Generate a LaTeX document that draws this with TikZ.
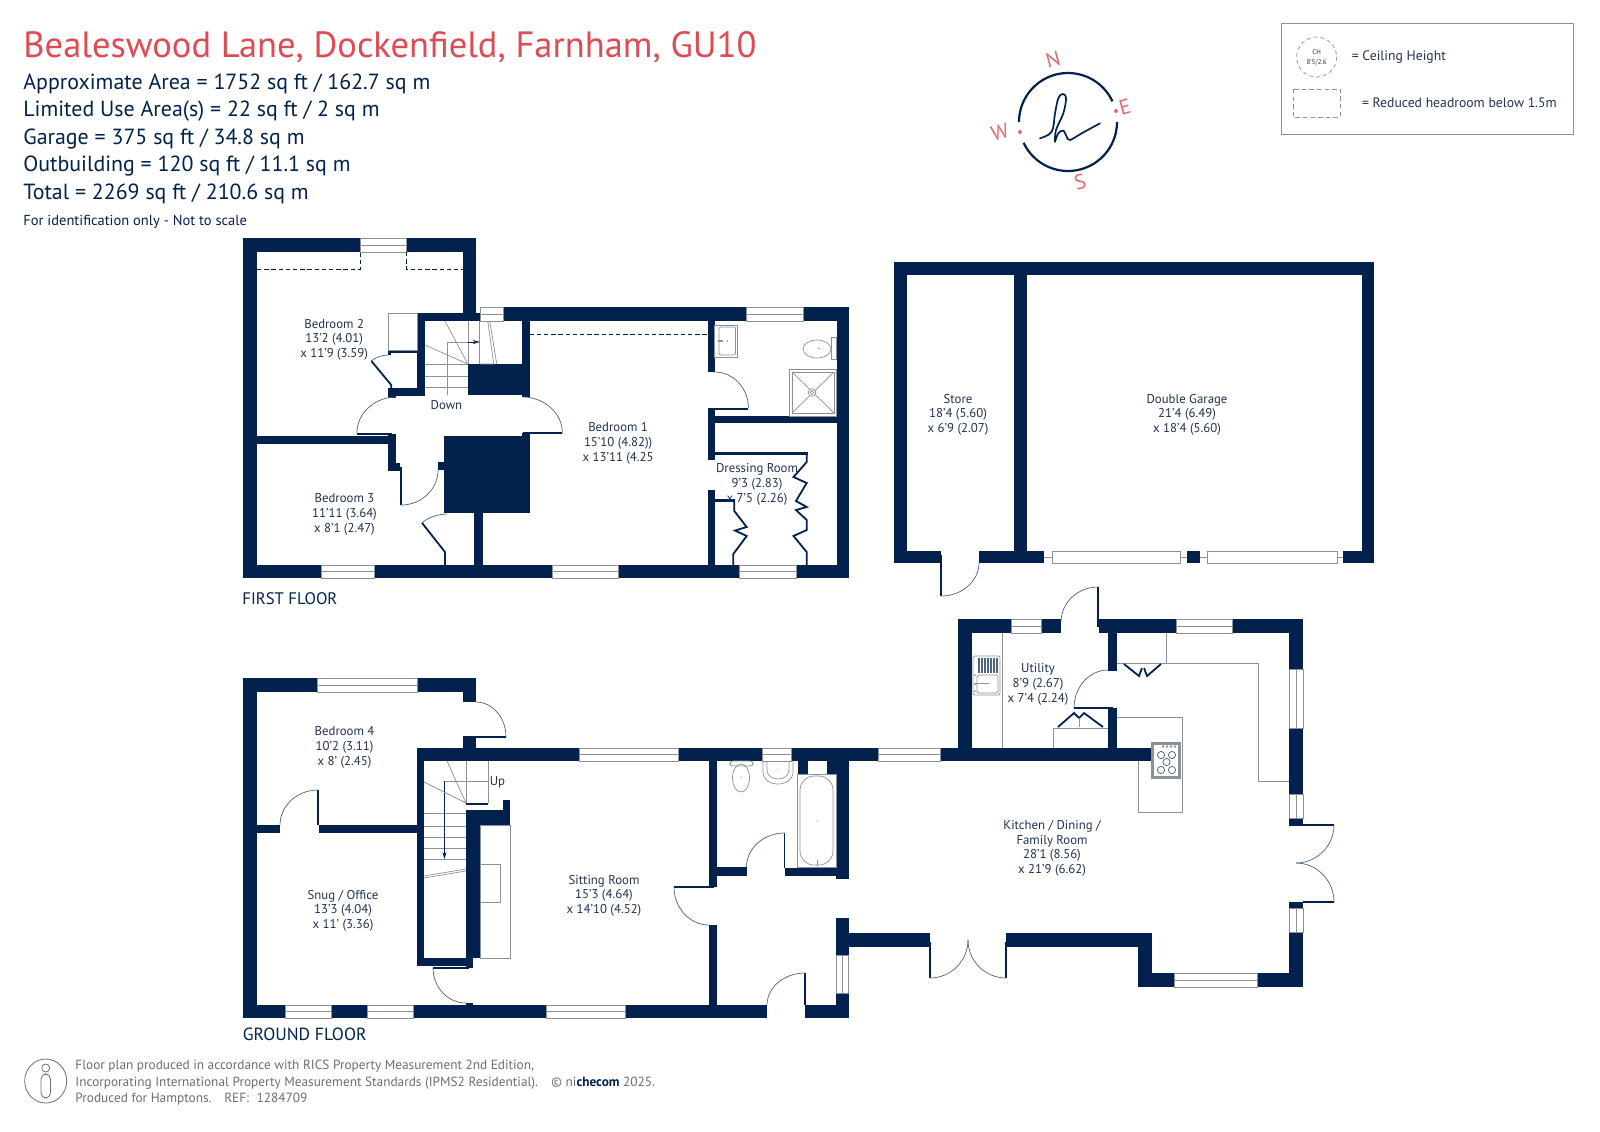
\documentclass[tikz,border=0pt]{standalone}
\usepackage{fontspec}
\setmainfont{PT Sans}
\usetikzlibrary{calc,arrows.meta}
\definecolor{wallc}{RGB}{2,34,77}
\definecolor{labc}{RGB}{35,50,80}
\definecolor{greyl}{RGB}{140,145,152}
\definecolor{redt}{RGB}{221,76,84}
\definecolor{salmon}{RGB}{222,110,110}
\definecolor{foot}{RGB}{105,110,120}
\tikzset{
 wall/.style={fill=wallc,draw=none},
 winb/.style={fill=white,draw=greyl,line width=0.35pt},
 fine/.style={draw=greyl,line width=0.35pt},
 arcl/.style={draw=wallc!70!white,line width=0.35pt},
 leaf/.style={draw=wallc,line width=0.9pt},
 room/.style={font=\fontsize{6.4}{7.35}\selectfont,align=center,text=labc,inner sep=0pt,yshift=-0.6pt},
 head/.style={font=\fontsize{10.95}{13}\selectfont,text=wallc,anchor=base west,inner sep=0pt},
 foottxt/.style={font=\fontsize{6.65}{8}\selectfont,text=foot,anchor=base west,inner sep=0pt},
 floorname/.style={font=\fontsize{8.8}{10}\selectfont,text=wallc,anchor=base west,inner sep=0pt},
 compassl/.style={font=\fontsize{10.5}{11}\selectfont,text=salmon,inner sep=0pt},
 legtxt/.style={font=\fontsize{6.85}{8}\selectfont,text=labc,anchor=west,inner sep=0pt},
}
\newcommand{\Wl}[4]{\fill[wall] (#1,#2) rectangle (#3,#4);}
\newcommand{\WinH}[4]{\draw[winb] (#1,#2) rectangle (#3,#4); \draw[fine] (#1,{(#2+#4)/2}) -- (#3,{(#2+#4)/2});}
\newcommand{\WinV}[4]{\draw[winb] (#1,#2) rectangle (#3,#4); \draw[fine] ({(#1+#3)/2},#2) -- ({(#1+#3)/2},#4);}
% start x,y  end x,y  corner x,y
\newcommand{\Darc}[6]{\draw[arcl] (#1,#2) .. controls ($(#1,#2)!0.55!(#5,#6)$) and ($(#3,#4)!0.55!(#5,#6)$) .. (#3,#4);}
\begin{document}
\begin{tikzpicture}[x=0.5pt,y=-0.5pt]
\useasboundingbox (0,0) rectangle (1600,1131);
\fill[white] (0,0) rectangle (1600,1131);

%% ---------- header
\node[anchor=base west,inner sep=0pt,text=redt,font=\fontsize{18.25}{20}\selectfont] (title) at (23,57) {Bealeswood Lane, Dockenfield, Farnham, GU10};
\node[head] (h1) at (23,89) {Approximate Area = 1752 sq ft / 162.7 sq m};
\node[head] (h2) at (23,116.5) {Limited Use Area(s) = 22 sq ft / 2 sq m};
\node[head] (h3) at (23,144) {Garage = 375 sq ft / 34.8 sq m};
\node[head] (h4) at (23,171.5) {Outbuilding = 120 sq ft / 11.1 sq m};
\node[head] (h5) at (23,199) {Total = 2269 sq ft / 210.6 sq m};
\node[anchor=base west,inner sep=0pt,text=wallc,font=\fontsize{7.25}{8}\selectfont] (h6) at (23,225.5) {For identification only - Not to scale};

%% ---------- compass
\draw[wallc,line width=1.1pt] plot[smooth,samples=40,domain=25:180] ({1068+49*cos(\x)},{122-49*sin(\x)});
\draw[wallc,line width=1.1pt] plot[smooth,samples=40,domain=205:360] ({1068+49*cos(\x)},{122-49*sin(\x)});
\draw[wallc,line width=0.85pt,line cap=round] plot[smooth,tension=0.6] coordinates {(1040,138.3) (1051.7,131.7) (1055,113.3) (1058.3,98.3) (1062.7,94) (1066,98.3) (1063.3,113.3) (1056,130) (1055,141.7)};
\draw[wallc,line width=0.85pt,line cap=round] plot[smooth,tension=0.6] coordinates {(1055,141.7) (1058.3,133.3) (1063.3,130.7) (1066.7,136.7) (1070,140) (1081.7,133.3) (1100,123.3)};
\fill[salmon] (1116,111) circle[radius=2];
\fill[salmon] (1020,132) circle[radius=2];
\node[compassl,rotate=15] (cN) at (1053,60) {N};
\node[compassl,rotate=15] (cE) at (1125,107) {E};
\node[compassl,rotate=15] (cS) at (1080,182) {S};
\node[compassl,rotate=15] (cW) at (1000,132) {W};

%% ---------- legend
\draw[draw=greyl,line width=0.45pt] (1281,23) rectangle (1573,134);
\draw[draw=greyl,line width=0.35pt,dash pattern=on 2pt off 1.5pt] (1316.6,57) circle[radius=20];
\node[inner sep=0pt,font=\fontsize{3.4}{4}\selectfont,text=labc,align=center] (lch) at (1316.6,57.5) {CH\\[0.6pt]8'5/2.6};
\node[legtxt] (lt1) at (1351.5,57) {= Ceiling Height};
\draw[draw=greyl,line width=0.5pt,dash pattern=on 2.2pt off 1.6pt] (1293,89) rectangle (1340,117);
\node[legtxt] (lt2) at (1361.7,103) {= Reduced headroom below 1.5m};

%% ---------- FIRST FLOOR (slightly condensed about its left wall)
\begin{scope}[x=0.4975pt,xshift=0.6075pt]
\Wl{243}{238}{257}{578}   % left
\Wl{243}{238}{477.5}{252} % wing top
\Wl{464}{238}{477.5}{321}
\Wl{418}{313}{482}{321}
\Wl{482}{307}{852}{321}   % right top
\Wl{840}{307}{852}{578}
\Wl{243}{565}{852}{578}   % bottom
\Wl{418}{313}{426}{396}
\Wl{523}{321}{531}{397}
\Wl{469}{364}{531}{395}
\Wl{389}{388}{426}{396}
\Wl{389}{388}{397}{398}
\Wl{389}{350}{418}{353}
\Wl{389}{350}{392}{355}
\Wl{257}{436}{397}{444}
\Wl{389}{434}{397}{463}
\Wl{389}{463}{401}{471}
\Wl{439}{462}{446}{470}
\Wl{445}{436}{531}{513}
\Wl{523}{433}{531}{436}
\Wl{475}{513}{484}{565}
\Wl{710}{321}{717}{372}
\Wl{710}{408}{717}{460}
\Wl{710}{490}{717}{565}
\Wl{717}{416}{840}{423}
%% windows
\WinH{361}{238}{407}{252}
\WinH{482}{307}{505}{321}
\WinH{749}{307}{806}{321}
\WinH{322}{565}{375}{578}
\WinH{554}{565}{620}{578}
\WinH{742}{565}{799}{578}
%% dashes
\draw[wallc,line width=0.35pt,dash pattern=on 2.2pt off 1.4pt] (257,269) -- (361,269) -- (361,252);
\draw[wallc,line width=0.35pt,dash pattern=on 2.2pt off 1.4pt] (407,252) -- (407,269) -- (464,269);
\draw[wallc,line width=0.35pt,dash pattern=on 2.2pt off 1.4pt] (531,334) -- (710,334);
%% stairs
\draw[fine] (426,364) -- (469,364) (426,376) -- (469,376) (426,387) -- (469,387);
\draw[fine] (448,395) -- (448,342) -- (469,342);
\draw[fine] (446,321) -- (469,364) (426,345) -- (469,364);
\draw[fine] (469,321) -- (469,364) (481,321) -- (481,364);
\draw[fine] (489,321) -- (495,364) (491,321) -- (498,364) (495,364) -- (481,364);
\draw[wallc,line width=0.3pt,-{Stealth[length=3.5pt,width=2pt]}] (469,342) -- (481,342);
\node[room] (down) at (447.5,403.5) {Down};
%% cupboard
\draw[fine] (389,313) rectangle (418,350);
\draw[leaf] (372,361) -- (392,385) -- (392,397);
\Darc{389}{355}{372}{361}{378}{355}
%% first-floor doors
\Darc{397}{397}{357.5}{433}{357.5}{397}
\draw[leaf] (357.5,434) -- (393,434);
\Darc{524}{397}{564}{433}{564}{397}
\draw[leaf] (524,433) -- (564,433);
\draw[leaf] (402,467) -- (402,505);
\Darc{402}{505}{439}{470}{439}{505}
\Darc{448}{514}{423}{523}{431}{514}
\draw[leaf] (423,523) -- (446,552) -- (446,565);
\Darc{717}{372}{751}{408}{751}{372}
\draw[leaf] (751,409) -- (712,409);
%% labels
\node[room] (b2) at (334.6,338.5) {Bedroom 2\\13'2 (4.01)\\x 11'9 (3.59)};
\node[room] (b3) at (345,513) {Bedroom 3\\11'11 (3.64)\\x 8'1 (2.47)};
\node[room] (b1) at (620,442) {Bedroom 1\\15'10 (4.82))\\x 13'11 (4.25};
\end{scope}
%% dressing-room wardrobes and bathroom fittings
\Wl{714}{451.7}{808}{454.7}
\Wl{714}{499}{735}{501.5}
\draw[leaf] (806.7,452) -- (806.7,462) -- (793.5,477) -- (806.7,483) -- (796,501) -- (806.7,507) -- (796,510) -- (806.7,520) -- (806.7,530) -- (793.5,536) -- (806.7,552) -- (806.7,566);
\draw[leaf] (734.3,500) -- (734.3,511) -- (746.7,527) -- (735,530.5) -- (746.7,536) -- (733.3,554) -- (733.3,566);
\draw[fine] (714,325) rectangle (737,357);
\draw[fine,rounded corners=1pt] (719,327) rectangle (735.5,355);
\fill[greyl] (718,340) rectangle (723,342);
\fill[greyl] (727.5,341) circle[radius=0.8];
\draw[fine] (831,337) rectangle (836,359);
\draw[fine] (817,349) ellipse[x radius=14,y radius=9];
\fill[greyl] (819,348.5) circle[radius=0.8];
\draw[fine] (789,369) rectangle (836,416);
\draw[fine] (792,372) rectangle (834,413);
\draw[fine] (792,372) -- (834,413) (834,372) -- (792,413);
\draw[fine,fill=white] (812,392.5) circle[radius=3.8];
\draw[fine] (812,392.5) circle[radius=1.8];
\node[room] (dr) at (757,483) {Dressing Room\\9'3 (2.83)\\x 7'5 (2.26)};
\node[floorname,font=\fontsize{8.35}{10}\selectfont] (ff) at (242,604) {FIRST FLOOR};

%% ---------- GARAGE
\Wl{894}{262}{1374}{275}
\Wl{894}{262}{907}{563}
\Wl{1014}{262}{1027}{563}
\Wl{1362}{262}{1374}{563}
\Wl{894}{551}{941}{563}
\Wl{979}{551}{1044}{563}
\Wl{1187}{551}{1200}{563}
\Wl{1343}{551}{1374}{563}
\draw[leaf] (941,555) -- (941,596);
\Darc{941}{596}{979}{563}{979}{596}
\draw[winb] (1052,551) rectangle (1180,563);
\draw[winb] (1207,551) rectangle (1337,563);
\draw[fine] (1044,557) -- (1052,557) (1180,557) -- (1187,557) (1200,557) -- (1207,557) (1337,557) -- (1343,557);
\node[room] (st) at (958,413.5) {Store\\18'4 (5.60)\\x 6'9 (2.07)};
\node[room] (dg) at (1187,413.5) {Double Garage\\21'4 (6.49)\\x 18'4 (5.60)};

%% ---------- GROUND FLOOR walls
\Wl{243}{678}{257}{1018}
\Wl{243}{678}{476}{692}
\Wl{463}{678}{476}{702}
\Wl{463}{737}{476}{753}
\Wl{417}{748}{1151}{761}
\Wl{417}{748}{424}{966}
\Wl{417}{958}{473}{966}
\Wl{466}{825}{480}{958}
\Wl{466}{958}{473}{968}
\Wl{466}{810}{510}{825}
\Wl{502.5}{800}{510}{810}
\Wl{466}{802.5}{488}{805}
\Wl{257}{825}{280}{833}
\Wl{319}{825}{417}{833}
\Wl{243}{1005}{767}{1018}
\Wl{466}{1003}{473}{1005}
\Wl{709}{761}{717}{887}
\Wl{709}{925}{717}{1005}
\Wl{717}{867}{746.5}{876}
\Wl{784.5}{868}{836}{876}
\Wl{836}{761}{848.5}{879}
\Wl{797.5}{761}{808}{774}
\Wl{827}{761}{836}{774}
\Wl{836}{918}{848.5}{955}
\Wl{836}{993}{848.5}{1018}
\Wl{805}{1005}{848.5}{1018}
%% windows
\WinH{317.5}{678}{417}{692}
\WinH{579}{748}{678}{761}
\WinH{762}{748}{791}{761}
\WinH{878}{748}{940}{761}
\WinH{285}{1005}{331}{1018}
\WinH{367}{1005}{413}{1018}
\WinH{546.5}{1005}{625}{1018}
\WinV{836}{955}{848.5}{993}
%% ground doors
\Darc{476}{702}{506}{737}{506}{702}
\draw[leaf] (506,737) -- (463,737);
\draw[leaf] (318,790) -- (318,825);
\Darc{318}{790}{280}{825}{280}{790}
\draw[leaf] (433,968) -- (469,968);
\Darc{433}{968}{466}{1003}{433}{1003}
\draw[leaf] (674,887) -- (714,887);
\Darc{674}{887}{709}{925}{674}{925}
\draw[leaf] (784.5,833) -- (784.5,868);
\Darc{784.5}{833}{746.5}{867}{746.5}{833}
\draw[leaf] (805,973) -- (805,1005);
\Darc{805}{973}{767}{1005}{767}{973}
%% ground stairs
\draw[fine] (424,813) -- (466,813) (424,826) -- (466,826) (424,837) -- (466,837) (424,848) -- (466,848) (424,859) -- (466,859);
\draw[fine] (444.5,781) -- (488,781);
\draw[wallc,line width=0.3pt,-{Stealth[length=3.5pt,width=2pt]}] (444.5,781) -- (444.5,859);
\draw[fine] (466,761) -- (466,803) (488,761) -- (488,803);
\draw[fine] (447,761) -- (466,803) (424,782) -- (466,803);
\draw[fine] (424,878) -- (466,871) (424,876) -- (466,869);
\node[room] (up) at (497.5,781) {Up};
%% chimney
\draw[fine] (480,825) rectangle (510.5,958);
\draw[fine] (480,864) rectangle (500,902);
%% ground WC
\draw[fine,rounded corners=1.5pt] (730,761) rectangle (753,766);
\draw[fine] (741,778) ellipse[x radius=8.5,y radius=14];
\fill[greyl] (741,777) circle[radius=0.7];
\draw[fine] (763,761) -- (763,772) .. controls (763,788) and (793,788) .. (793,772) -- (793,761);
\draw[fine] (767,761) -- (767,770) .. controls (767,782) and (789,782) .. (789,770) -- (789,761);
\fill[greyl] (778,770) circle[radius=0.7];
\draw[fine] (797.5,774) rectangle (836,867);
\draw[fine,rounded corners=7pt] (800,776) rectangle (833,865);
\fill[greyl] (817,821) circle[radius=0.7];
\draw[fine] (817,860) -- (817,866);
%% labels
\node[room] (b4) at (344.5,746) {Bedroom 4\\10'2 (3.11)\\x 8' (2.45)};
\node[room] (sn) at (343,909.5) {Snug / Office\\13'3 (4.04)\\x 11' (3.36)};
\node[room] (sr) at (604,894.5) {Sitting Room\\15'3 (4.64)\\x 14'10 (4.52)};
\node[floorname] (gf) at (242.5,1040) {GROUND FLOOR};

%% ---------- KITCHEN + UTILITY
\Wl{958}{619}{972}{761}
\Wl{958}{619}{1061}{633}
\Wl{1099}{619}{1303}{633}
\Wl{1289}{619}{1303}{826}
\Wl{1289}{902}{1303}{987}
\Wl{1296}{824}{1303}{826}
\Wl{1138}{973}{1303}{987}
\Wl{1138}{933}{1152}{987}
\Wl{1006}{933}{1152}{947}
\Wl{848}{933}{930}{947}
\Wl{1108}{633}{1117}{671}
\Wl{1108}{708}{1117}{748}
\WinH{1011}{619}{1041}{633}
\WinH{1176}{619}{1232}{633}
\WinH{1174}{973}{1257}{987}
\WinV{1289}{669}{1303}{728}
\WinV{1289}{794}{1303}{818}
\WinV{1289}{908}{1303}{932}
%% kitchen doors
\draw[leaf] (1098,587) -- (1098,627);
\Darc{1098}{587}{1061}{622}{1061}{587}
\Darc{1108}{670}{1074}{708}{1074}{670}
\draw[leaf] (1074,708) -- (1113,708);
\draw[leaf] (930,942) -- (930,978);
\draw[leaf] (1006,942) -- (1006,978);
\Darc{930}{978}{968}{940}{968}{978}
\Darc{1006}{978}{968}{940}{968}{978}
\draw[leaf] (1296,825) -- (1334,825);
\draw[leaf] (1303,902) -- (1334,902);
\Darc{1334}{825}{1296}{863}{1334}{863}
\Darc{1334}{902}{1296}{863}{1334}{863}
%% units
\draw[fine] (1166,633) -- (1166,663);
\draw[fine] (1117,663) -- (1258,663) -- (1258,781) -- (1289,781);
\draw[leaf] (1124,664) -- (1139,676) -- (1142,668);
\draw[leaf] (1161,664) -- (1147,676) -- (1144,668);
\draw[fine] (1142,668) -- (1144,668);
\draw[fine] (1002,633) -- (1002,748);
\draw[fine] (1053,748) -- (1053,728) -- (1108,728);
\draw[leaf] (1058,727) -- (1074,713) -- (1079,718);
\draw[leaf] (1103,727) -- (1084,713) -- (1079,718);
\draw[fine] (1079,718) -- (1079,727);
%% sink
\draw[fine,rounded corners=1pt] (973,656) rectangle (1000,695);
\fill[wallc!70!white] (978,658) rectangle (998,673);
\foreach \q in {980,983,986,989,992,995}{\draw[white,line width=0.3pt] (\q,658) -- (\q,673);}
\draw[fine,rounded corners=1pt] (977,675) rectangle (998,693);
\draw[fine] (975,683.5) -- (989,683.5);
\fill[greyl] (975,675) circle[radius=1] (975,684) circle[radius=1] (975,691) circle[radius=1];
%% island
\draw[fine] (1117,717) -- (1182,717) -- (1182,812) -- (1138,812) -- (1138,761);
\draw[fine,fill=white] (1151,742) rectangle (1180,778);
\draw[greyl,line width=0.6pt] (1153,744) rectangle (1179,777);
\foreach \q/\r in {1161/755,1172/755,1166.5/762,1161/770,1172/770}{\draw[wallc!75!white,line width=0.35pt] (\q,\r) circle[radius=3.6];}
\foreach \q in {1163,1167,1171,1175}{\draw[fine] (\q,746.5) circle[radius=0.9];}
%% labels
\node[room] (ut) at (1038,683) {Utility\\8'9 (2.67)\\x 7'4 (2.24)};
\node[room] (kd) at (1052,847) {Kitchen / Dining /\\Family Room\\28'1 (8.56)\\x 21'9 (6.62)};

%% ---------- footer
\draw[draw=foot,line width=0.4pt] (45.7,1081) ellipse[x radius=21,y radius=22];
\draw[draw=foot,line width=0.4pt] (45.7,1068) circle[radius=4];
\draw[draw=foot,line width=0.4pt,rounded corners=2.5pt] (41,1074) rectangle (50.5,1098);
\node[foottxt] (f1) at (75,1069) {Floor plan produced in accordance with RICS Property Measurement 2nd Edition,};
\node[foottxt] (f2) at (75,1086) {Incorporating International Property Measurement Standards (IPMS2 Residential).};
\node[foottxt] (f3) at (75,1102) {Produced for Hamptons.\hspace{4pt} REF:\hspace{2pt} 1284709};
\node[foottxt] (f4) at (551,1086) {© ni{\color{wallc}\bfseries checom} 2025.};
\end{tikzpicture}
\end{document}
